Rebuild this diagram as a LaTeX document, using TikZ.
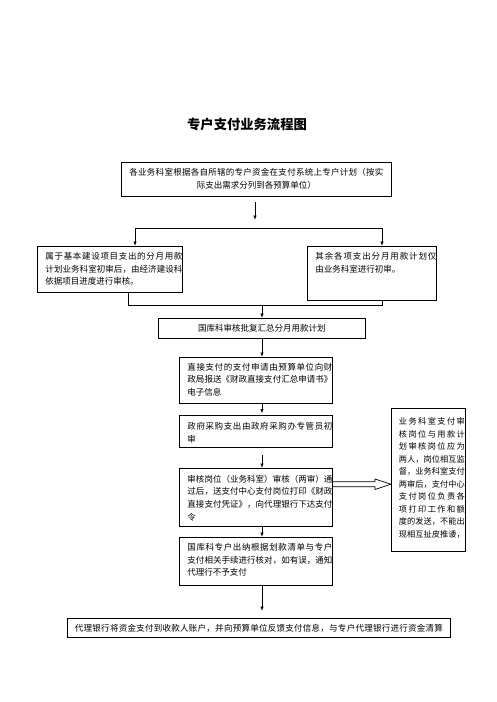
\documentclass[tikz,border=0pt]{standalone}
\usepackage{fontspec}
\newfontfamily\cjk{Noto Sans CJK SC}
\usetikzlibrary{arrows.meta}
\newdimen\bxpad \newdimen\bxtw
\def\sprA#1{#1\sprB}
\def\sprB#1{\ifx\relax#1\else\hfil#1\expandafter\sprB\fi}
\newcommand\SL[1]{\hbox{\kern\bxpad\hbox to\bxtw{\sprA#1\relax}}}
\newcommand\PL[1]{\hbox{\kern\bxpad#1}}
\newcommand\CL[1]{\hbox to\linewidth{\hss#1\hss}}
\newcommand\CSL[2]{\hbox to\linewidth{\hss\hbox to #1{\sprA#2\relax}\hss}}
\newcommand\BX[6]{\parbox[c][#2][t]{#1}{\bxpad=#3\relax\bxtw=#4\relax\vspace*{#5}#6}}
\begin{document}
\begin{tikzpicture}[x=1pt,y=-1pt,
  box/.style={draw, line width=0.9pt, inner sep=0pt, anchor=north west,
    font={\cjk\fontsize{8.5}{12.6}\selectfont}},
  notebox/.style={box, font={\cjk\fontsize{8.2}{12.5}\selectfont}},
  titlenode/.style={font={\cjk\bfseries\fontsize{13.3}{16}\selectfont}},
  arr/.style={line width=0.8pt, -{Latex[length=4.5pt,width=3.5pt]}},
  ln/.style={line width=0.8pt}]
\fill[white] (0,0) rectangle (496,702);
\useasboundingbox (0,0) rectangle (496,702);

\node[titlenode] (title) at (247,124) {专户支付业务流程图};

\node[box] (b1) at (121,162) {\BX{270pt}{34pt}{0pt}{0pt}{6pt}{%
  \CSL{254pt}{各业务科室根据各自所辖的专户资金在支付系统上专户计划（按实}%
  \CL{际支出需求分列到各预算单位）}}};

\node[box] (lb) at (37,246) {\BX{150pt}{46pt}{8pt}{137pt}{6pt}{%
  \SL{属于基本建设项目支出的分月用款}%
  \SL{计划业务科室初审后，由经济建设科}%
  \PL{依据项目进度进行审核。}}};

\node[box] (rb) at (307,246) {\BX{136pt}{54pt}{8pt}{121pt}{6pt}{%
  \SL{其余各项支出分月用款计划仅}%
  \PL{由业务科室进行初审。}}};

\node[box, minimum width=207pt, minimum height=20pt] (b3) at (158,318) {国库科审核批复汇总分月用款计划};

\node[box] (b4) at (179,357) {\BX{158pt}{46pt}{8pt}{145pt}{5.5pt}{%
  \SL{直接支付的支付申请由预算单位向财}%
  \SL{政局报送《财政直接支付汇总申请书》}%
  \PL{电子信息}}};

\node[box] (b5) at (179,415) {\BX{158pt}{32pt}{8pt}{145pt}{7pt}{%
  \SL{政府采购支出由政府采购办专管员初}%
  \PL{审}}};

\node[box] (b6) at (179,468) {\BX{158pt}{58pt}{8pt}{145pt}{6.5pt}{%
  \SL{审核岗位（业务科室）审核（两审）通}%
  \SL{过后，送支付中心支付岗位打印《财政}%
  \SL{直接支付凭证》，向代理银行下达支付}%
  \PL{令}}};

\node[box] (b7) at (179,537) {\BX{158pt}{48pt}{8pt}{145pt}{6pt}{%
  \SL{国库科专户出纳根据划款清单与专户}%
  \SL{支付相关手续进行核对，如有误，通知}%
  \PL{代理行不予支付}}};

\node[box] (b8) at (67,618) {\BX{383pt}{19pt}{0pt}{0pt}{5.5pt}{%
  \CSL{368pt}{代理银行将资金支付到收款人账户，并向预算单位反馈支付信息，与专户代理银行进行资金清算}}};

\node[notebox] (note) at (391,408) {\BX{81pt}{143pt}{7.5pt}{66pt}{9.5pt}{%
  \SL{业务科室支付审}%
  \SL{核岗位与用款计}%
  \SL{划审核岗位应为}%
  \SL{两人，岗位相互监}%
  \SL{督，业务科室支付}%
  \SL{两审后，支付中心}%
  \SL{支付岗位负责各}%
  \SL{项打印工作和额}%
  \SL{度的发送，不能出}%
  \SL{现相互扯皮推诿，}}};

% connectors
\coordinate (c1) at (255,220);
\coordinate (hl) at (135,228);
\coordinate (hr) at (382,228);
\coordinate (j1) at (128,305);
\coordinate (j2) at (382,305);
\coordinate (sp) at (262,305);

\draw[arr, shorten <=5pt] (b1.south -| c1) -- (c1);
\draw[ln] (hl) -- (hr);
\draw[arr] (hl) -- (lb.north -| hl);
\draw[arr] (hr) -- (rb.north -| hr);
\draw[ln] (lb.south -| j1) -- (j1) -- (j2) -- (rb.south -| j2);
\draw[arr] (sp) -- (b3.north -| sp);
\draw[arr] (b3.south -| sp) -- (b4.north -| sp);
\draw[arr, shorten >=1.5pt] (b4.south -| sp) -- (b5.north -| sp);
\draw[arr, shorten <=7pt] (b5.south -| sp) -- (b6.north -| sp);
\draw[arr] (b6.south -| sp) -- (b7.north -| sp);
\draw[arr, shorten >=7pt] (b7.south -| sp) -- (b8.north -| sp);

% hollow double arrow
\draw[line width=0.7pt, line join=miter]
  (b6.east |- 0,481.7) -- (375,481.7) -- (375,479) -- (note.west |- 0,484.2)
  -- (375,489.5) -- (375,486.7) -- (b6.east |- 0,486.7);
\end{tikzpicture}
\end{document}
